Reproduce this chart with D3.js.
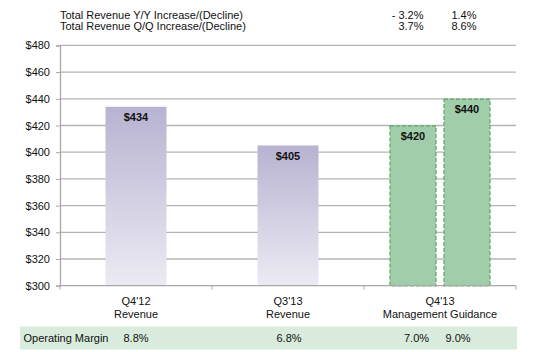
<html>
<head>
  <script src="https://d3js.org/d3.v7.min.js"></script>
  <style>
    body { margin: 0; background: #fff; }
    svg { font-family: "Liberation Sans", Arial, sans-serif; }
  </style>
</head>
<body>
  <svg id="root" width="542" height="352"></svg>
  <script>
    // data
    var categories = ["Q4'12|Revenue", "Q3'13|Revenue", "Q4'13|Management Guidance"];
    var actuals = [434, 405];
    var guidance = [420, 440];
    var yTicks = [300, 320, 340, 360, 380, 400, 420, 440, 460, 480];
    var yoyLabel = 'Total Revenue Y/Y Increase/(Decline)';
    var qoqLabel = 'Total Revenue Q/Q Increase/(Decline)';
    var yoyValues = ['- 3.2%', '1.4%'];
    var qoqValues = ['3.7%', '8.6%'];
    var marginLabel = 'Operating Margin';
    var marginValues = ['8.8%', '6.8%', '7.0%', '9.0%'];

    var svg = d3.select('#root');
    // note: "top" is taken by window.top, so use plot* names
    var plotLeft = 60, plotRight = 516, plotTop = 45.4, plotBottom = 285.7;

    var x = d3.scaleBand().domain(categories).range([plotLeft, plotRight]);
    var y = d3.scaleLinear().domain([300, 480]).range([plotBottom, plotTop]);

    var defs = svg.append('defs');
    var grad = defs.append('linearGradient')
      .attr('id', 'purple').attr('x1', 0).attr('y1', 0).attr('x2', 0).attr('y2', 1);
    grad.append('stop').attr('offset', '0%').attr('stop-color', '#b7b3d1');
    grad.append('stop').attr('offset', '100%').attr('stop-color', '#ecebf3');

    // header rows
    var header = svg.append('g').attr('font-size', 11).attr('fill', '#111');
    header.append('text').attr('x', 60).attr('y', 18.5).text(yoyLabel);
    header.append('text').attr('x', 60).attr('y', 30).text(qoqLabel);
    header.append('text').attr('x', 423.5).attr('y', 18.5).attr('text-anchor', 'end').text(yoyValues[0]);
    header.append('text').attr('x', 476.5).attr('y', 18.5).attr('text-anchor', 'end').text(yoyValues[1]);
    header.append('text').attr('x', 423.5).attr('y', 30).attr('text-anchor', 'end').text(qoqValues[0]);
    header.append('text').attr('x', 476.5).attr('y', 30).attr('text-anchor', 'end').text(qoqValues[1]);

    // gridlines
    svg.append('g')
      .selectAll('line')
      .data(yTicks.slice(1))
      .enter()
      .append('line')
      .attr('x1', plotLeft).attr('x2', plotRight)
      .attr('y1', function (d) { return y(d); })
      .attr('y2', function (d) { return y(d); })
      .attr('stroke', '#b4b4b4')
      .attr('stroke-width', 1.3);

    // y axis
    var yAxis = svg.append('g')
      .attr('transform', 'translate(' + plotLeft + ',0)')
      .call(d3.axisLeft(y).tickValues(yTicks).tickSize(4).tickPadding(6)
        .tickFormat(function (d) { return '$' + d; }));
    yAxis.select('.domain').attr('stroke', '#a8a8a8').attr('stroke-width', 1.3);
    yAxis.selectAll('.tick line').attr('stroke', '#a8a8a8');
    yAxis.selectAll('.tick text').attr('font-size', 11).attr('fill', '#111')
      .attr('font-family', '"Liberation Sans", Arial, sans-serif');

    // purple bars
    var barW = 61;
    svg.append('g')
      .selectAll('rect')
      .data(actuals)
      .enter()
      .append('rect')
      .attr('x', function (d, i) { return x(categories[i]) + x.bandwidth() / 2 - barW / 2; })
      .attr('y', function (d) { return y(d); })
      .attr('width', barW)
      .attr('height', function (d) { return plotBottom - y(d); })
      .attr('fill', 'url(#purple)');

    // green guidance bars
    var gW = 47, gGap = 7;
    var gx = x(categories[2]) + x.bandwidth() / 2;
    svg.append('g')
      .selectAll('rect')
      .data(guidance)
      .enter()
      .append('rect')
      .attr('x', function (d, i) { return gx - gGap / 2 - gW + i * (gW + gGap) + 0.5; })
      .attr('y', function (d) { return y(d) + 0.5; })
      .attr('width', gW - 1)
      .attr('height', function (d) { return plotBottom - y(d) - 0.5; })
      .attr('fill', '#a2cdaa')
      .attr('stroke', '#66b077')
      .attr('stroke-width', 1.4)
      .attr('stroke-dasharray', '4,2');

    // value labels
    var labels = svg.append('g').attr('font-size', 11).attr('font-weight', 'bold')
      .attr('text-anchor', 'middle').attr('fill', '#111');
    actuals.forEach(function (d, i) {
      labels.append('text')
        .attr('x', x(categories[i]) + x.bandwidth() / 2)
        .attr('y', y(d) + 14)
        .text('$' + d);
    });
    guidance.forEach(function (d, i) {
      labels.append('text')
        .attr('x', gx - gGap / 2 - gW / 2 + i * (gW + gGap))
        .attr('y', y(d) + 14)
        .text('$' + d);
    });

    // x axis
    var xAxis = svg.append('g')
      .attr('transform', 'translate(0,' + plotBottom + ')');
    xAxis.append('line')
      .attr('x1', plotLeft).attr('x2', plotRight)
      .attr('stroke', '#a8a8a8').attr('stroke-width', 1.3);
    xAxis.selectAll('.sep')
      .data(categories.map(function (c) { return x(c); }).concat([plotRight]))
      .enter()
      .append('line')
      .attr('class', 'sep')
      .attr('x1', function (d) { return d; }).attr('x2', function (d) { return d; })
      .attr('y1', 0).attr('y2', 4)
      .attr('stroke', '#a8a8a8');
    xAxis.selectAll('text.cat')
      .data(categories)
      .enter()
      .append('text')
      .attr('class', 'cat')
      .attr('text-anchor', 'middle')
      .attr('font-size', 11)
      .attr('fill', '#111')
      .each(function (d) {
        var parts = d.split('|');
        var cx = x(d) + x.bandwidth() / 2;
        d3.select(this).append('tspan').attr('x', cx).attr('y', 19).text(parts[0]);
        d3.select(this).append('tspan').attr('x', cx).attr('y', 32.5).text(parts[1]);
      });

    // operating margin band
    svg.append('rect')
      .attr('x', 20).attr('y', 326.5).attr('width', 497).attr('height', 23)
      .attr('fill', '#d8ebdc');
    var om = svg.append('g').attr('font-size', 11).attr('fill', '#111');
    om.append('text').attr('x', 23.5).attr('y', 342).text(marginLabel);
    var omX = [136, 289, 416.5, 458];
    marginValues.forEach(function (v, i) {
      om.append('text').attr('x', omX[i]).attr('y', 342).attr('text-anchor', 'middle').text(v);
    });
  </script>
</body>
</html>
